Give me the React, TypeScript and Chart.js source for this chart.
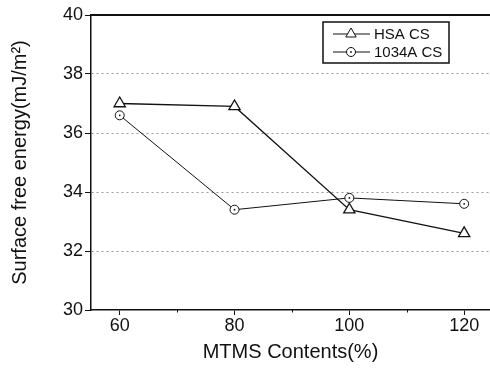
import React, { useEffect, useRef } from 'react';
import { Chart, registerables } from 'chart.js';
Chart.register(...registerables);

const xValues = [60, 80, 100, 120];
const hsaValues = [37.0, 36.9, 33.4, 32.6];
const cs1034Values = [36.6, 33.4, 33.8, 33.6];
const xTicks = [60, 80, 100, 120];
const xMinorTicks = [70, 90, 110];
const yTicks = [30, 32, 34, 36, 38, 40];
const seriesNames = ['HSA CS', '1034A CS'];
const xTitle = 'MTMS Contents(%)';
const yTitle = 'Surface free energy(mJ/m²)';

const FONT = 'Liberation Sans, Arial, sans-serif';
const INK = '#111';

const framePlugin = {
  id: 'frame',
  afterDatasetsDraw(chart: any) {
    const { ctx, chartArea } = chart;
    ctx.save();
    // top border
    ctx.strokeStyle = INK;
    ctx.lineWidth = 2;
    ctx.beginPath();
    ctx.moveTo(chartArea.left, chartArea.top);
    ctx.lineTo(chartArea.right, chartArea.top);
    ctx.stroke();
    // minor x ticks
    const xs = chart.scales.x;
    ctx.lineWidth = 1;
    xMinorTicks.forEach((v) => {
      const px = Math.round(xs.getPixelForValue(v)) + 0.5;
      ctx.beginPath();
      ctx.moveTo(px, chartArea.bottom);
      ctx.lineTo(px, chartArea.bottom + 2.5);
      ctx.stroke();
    });
    // center dots for circle markers
    const meta = chart.getDatasetMeta(1);
    ctx.fillStyle = INK;
    meta.data.forEach((pt: any) => {
      ctx.beginPath();
      ctx.arc(pt.x, pt.y, 0.9, 0, Math.PI * 2);
      ctx.fill();
    });
    // legend
    const bx = 323, by = 22, bw = 126, bh = 41;
    ctx.lineWidth = 1.5;
    ctx.fillStyle = '#fff';
    ctx.fillRect(bx, by, bw, bh);
    ctx.strokeRect(bx, by, bw, bh);
    const rows = [by + 12, by + 30];
    ctx.lineWidth = 1;
    rows.forEach((ry, i) => {
      ctx.strokeStyle = INK;
      ctx.beginPath();
      ctx.moveTo(333, ry);
      ctx.lineTo(370, ry);
      ctx.stroke();
      ctx.fillStyle = '#fff';
      ctx.beginPath();
      if (i === 0) {
        const r = 6;
        ctx.moveTo(351, ry - r);
        ctx.lineTo(351 + r * Math.sin(Math.PI * 2 / 3), ry - r * Math.cos(Math.PI * 2 / 3));
        ctx.lineTo(351 - r * Math.sin(Math.PI * 2 / 3), ry - r * Math.cos(Math.PI * 2 / 3));
        ctx.closePath();
      } else {
        ctx.arc(351, ry, 4.5, 0, Math.PI * 2);
      }
      ctx.fill();
      ctx.stroke();
      if (i === 1) {
        ctx.fillStyle = INK;
        ctx.beginPath();
        ctx.arc(351, ry, 0.9, 0, Math.PI * 2);
        ctx.fill();
      }
      ctx.fillStyle = INK;
      ctx.font = `15px ${FONT}`;
      ctx.textBaseline = 'middle';
      ctx.textAlign = 'left';
      ctx.fillText(seriesNames[i], 374, ry + 1);
    });
    ctx.restore();
  },
};

export default function App() {
  const ref = useRef<HTMLCanvasElement>(null);
  useEffect(() => {
    document.body.style.margin = '0';
    const canvas = ref.current!;
    const chart = new Chart(canvas, {
      type: 'line',
      data: {
        datasets: [
          {
            label: seriesNames[0],
            data: xValues.map((x, i) => ({ x, y: hsaValues[i] })),
            borderColor: INK,
            borderWidth: 1.3,
            pointStyle: 'triangle',
            pointRadius: 6.5,
            pointBorderWidth: 1.3,
            pointBackgroundColor: '#fff',
            pointBorderColor: INK,
          },
          {
            label: seriesNames[1],
            data: xValues.map((x, i) => ({ x, y: cs1034Values[i] })),
            borderColor: INK,
            borderWidth: 1,
            pointStyle: 'circle',
            pointRadius: 4.5,
            pointBorderWidth: 1,
            pointBackgroundColor: '#fff',
            pointBorderColor: INK,
          },
        ],
      },
      options: {
        animation: false,
        responsive: false,
        maintainAspectRatio: false,
        layout: { autoPadding: false, padding: { top: 15, right: 0, left: 0, bottom: 0 } },
        plugins: { legend: { display: false }, tooltip: { enabled: false } },
        scales: {
          x: {
            type: 'linear',
            min: 55,
            max: 124.5,
            afterBuildTicks: (s: any) => { s.ticks = xTicks.map((v) => ({ value: v })); },
            afterFit: (s: any) => { s.height = 58; s.paddingLeft = 0; s.paddingRight = 0; },
            grid: { display: true, drawOnChartArea: false, drawTicks: true, tickLength: 5, tickColor: INK, tickWidth: 1 },
            border: { color: INK, width: 1.5 },
            ticks: { color: INK, font: { family: FONT, size: 18 }, padding: 0, maxRotation: 0 },
            title: { display: true, text: xTitle, color: INK, font: { family: FONT, size: 20 }, padding: { top: 0, bottom: 4 } },
          },
          y: {
            type: 'linear',
            min: 30,
            max: 40,
            afterBuildTicks: (s: any) => { s.ticks = yTicks.map((v) => ({ value: v })); },
            afterFit: (s: any) => { s.width = 91; s.paddingTop = 0; s.paddingBottom = 0; },
            grid: {
              color: (c: any) => (c.tick && (c.tick.value === 30 || c.tick.value === 40) ? 'rgba(0,0,0,0)' : '#999'),
              lineWidth: 1,
              drawTicks: true,
              tickLength: 6,
              tickColor: INK,
              tickBorderDash: [],
            },
            border: { color: INK, width: 1.5, dash: [2, 3] },
            ticks: { color: INK, font: { family: FONT, size: 18 }, padding: 2 },
            title: { display: true, text: yTitle, color: INK, font: { family: FONT, size: 20 }, padding: { top: 8, bottom: 0 } },
          },
        },
      },
      plugins: [framePlugin],
    });
    return () => chart.destroy();
  }, []);
  return <canvas ref={ref} width={490} height={368} style={{ display: 'block' }} />;
}
